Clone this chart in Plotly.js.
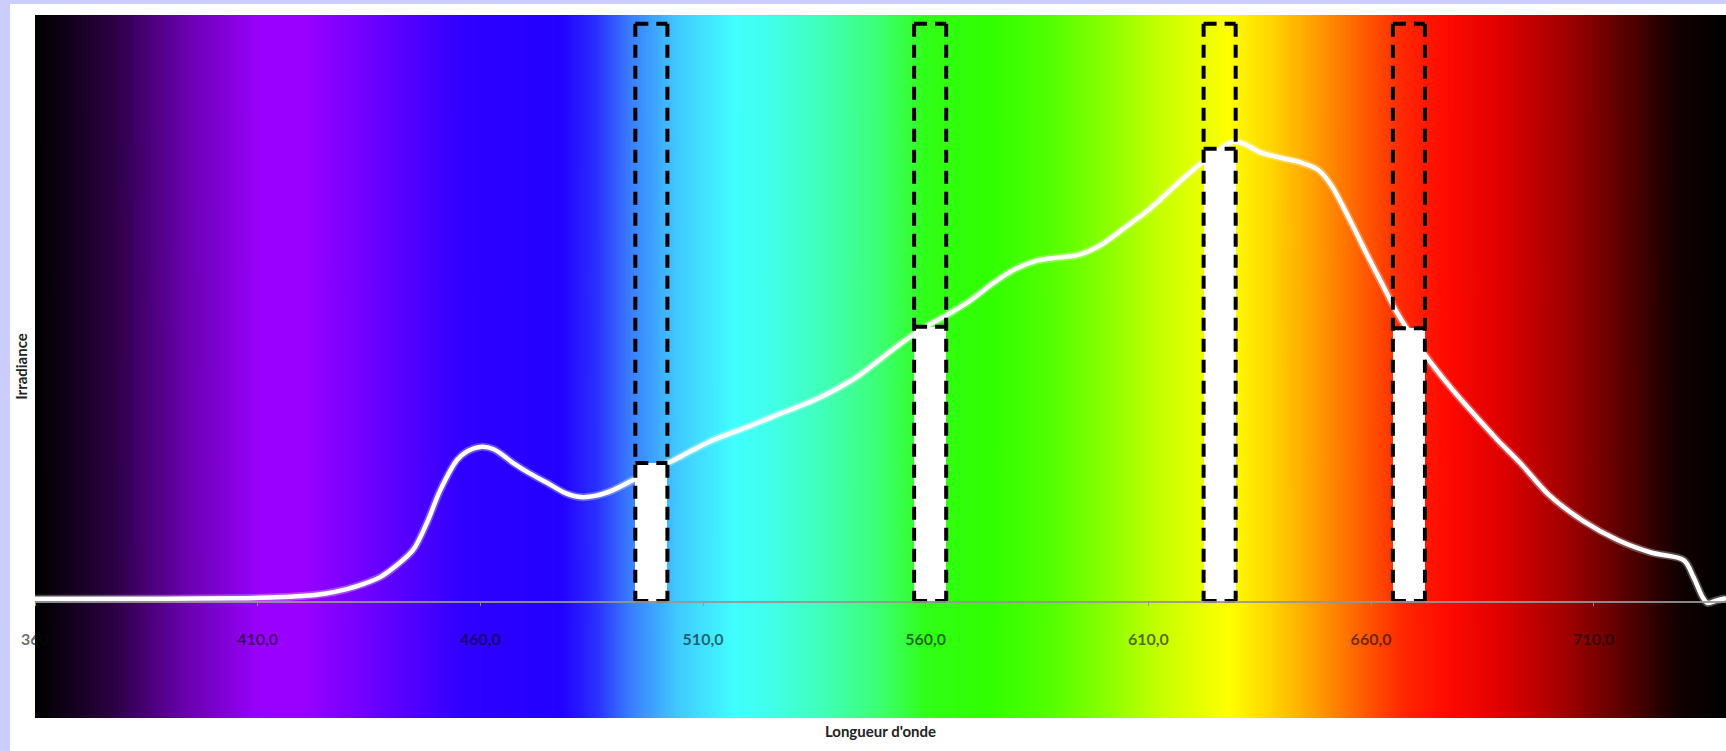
<!DOCTYPE html>
<html>
<head>
<meta charset="utf-8">
<script src="https://cdn.plot.ly/plotly-3.0.1.min.js"></script>
<style>
html,body{margin:0;padding:0;background:#ccccff;width:1726px;height:751px;overflow:hidden}
#chart{position:absolute;left:10px;top:4px;width:1716px;height:747px;background:#ffffff}
</style>
</head>
<body>
<div id="chart"></div>
<script>
// ---- Data ----
const wavelengths = [360, 375, 390, 405, 414, 420, 425, 430, 434, 437.5, 441, 444.9, 448, 451, 454.8, 457, 460, 463, 467.4, 471, 475, 479, 482.4, 486, 489.8, 494.3, 498, 502.6, 507.5, 512.3, 519.9, 526, 534.8, 540, 545, 550, 555, 560, 565, 570, 575, 580, 585, 590, 594.5, 599.5, 604.5, 609.5, 612.8, 618, 622.4, 626, 628.9, 631.5, 635, 640, 644, 648, 651, 655, 659, 662.5, 666, 670, 673.5, 678.5, 683.5, 688.5, 693.5, 700, 707.5, 715.5, 723, 730.2, 732.4, 734.4, 735.5, 737.8, 739.7];
const irradiance  = [0.5, 0.5, 0.5, 0.6, 0.8, 1.1, 1.6, 2.6, 3.8, 5.2, 7.6, 11.1, 17, 24.1, 30.7, 32.5, 33.5, 33, 30, 27.8, 25.7, 23.5, 22.6, 22.9, 24.1, 26.3, 28.2, 30.2, 32.7, 35, 37.8, 40.2, 43.6, 46.1, 49.0, 52.7, 56.4, 59.6, 62.3, 65.3, 69, 72.1, 74, 74.7, 75.3, 77.5, 81, 84.6, 87.4, 92, 95.6, 98.2, 99.8, 99.4, 97.6, 96.3, 95.4, 93.8, 90.5, 83.3, 75.5, 68.9, 62.4, 56.4, 51.7, 45.7, 40.2, 34.9, 30, 23, 17.5, 13.2, 10.5, 8.9, 5.2, 0.9, -0.4, 0.2, 0.6];

const bandCenters = [498.4, 561, 626, 668.5];
const bandValues  = [30, 59.6, 98.3, 59.3];
const bandMax     = [125.5, 125.5, 125.5, 125.5];

const tickValues = [360, 410, 460, 510, 560, 610, 660, 710];
const tickLabels = ['360', '410,0', '460,0', '510,0', '560,0', '610,0', '660,0', '710,0'];

// spectrum background colour stops (wavelength -> colour)
const spectrumWl = [360.5, 377, 394, 411, 420, 434, 456, 478, 486, 494, 504, 517, 526, 538, 550, 560, 574, 588, 601, 614, 628, 637, 647, 657, 667, 677, 690, 704, 717, 729, 739.7];
const spectrumColors = ['#000000', '#2a0040', '#6a00b0', '#9a00ff', '#9a00ff', '#7000ff', '#2f00ff', '#2200ff', '#2a30ff', '#3a80ff', '#40c8ff', '#40ffff', '#40ffe6', '#40ffb4', '#3cff70', '#30ff18', '#30ff00', '#54ff00', '#8cff00', '#ccff00', '#ffff00', '#ffd800', '#ffa000', '#ff6400', '#ff2800', '#ff0a00', '#dc0000', '#a00000', '#580000', '#120000', '#000000'];

const X_MIN = 360, X_MAX = 739.7;
const BAND_WIDTH = 7.2;

// ---- Build spectrum image ----
const cv = document.createElement('canvas');
cv.width = 1600; cv.height = 4;
const ctx = cv.getContext('2d');
const grad = ctx.createLinearGradient(0, 0, cv.width, 0);
spectrumWl.forEach((w, i) => grad.addColorStop(Math.min(1, Math.max(0, (w - X_MIN) / (X_MAX - X_MIN))), spectrumColors[i]));
ctx.fillStyle = grad;
ctx.fillRect(0, 0, cv.width, cv.height);
const spectrumSrc = cv.toDataURL('image/png');

// ---- Dashed band outlines (each edge its own sub-path so dashes start at corners) ----
const outlineX = [], outlineY = [];
bandCenters.forEach((c, i) => {
  const l = c - BAND_WIDTH / 2, r = c + BAND_WIDTH / 2;
  const top = bandMax[i], v = bandValues[i];
  outlineX.push(l, r, null, l, l, null, r, r, null, l, r, null, l, r, null);
  outlineY.push(top, top, null, top, 0, null, top, 0, null, v, v, null, 0, 0, null);
});

const traces = [
  { type: 'scatter', mode: 'lines', x: wavelengths, y: irradiance,
    line: { color: 'rgba(255,255,255,0.28)', width: 8, shape: 'spline', smoothing: 0.9 },
    hoverinfo: 'skip', showlegend: false },
  { type: 'scatter', mode: 'lines', x: wavelengths, y: irradiance, name: 'Irradiance',
    line: { color: '#ffffff', width: 4.5, shape: 'spline', smoothing: 0.9 }, showlegend: false },
  { type: 'bar', x: bandCenters, y: bandValues, width: BAND_WIDTH,
    marker: { color: '#ffffff', line: { width: 0 } }, showlegend: false },
  { type: 'scatter', mode: 'lines', x: outlineX, y: outlineY, connectgaps: false,
    line: { color: '#000000', width: 4, dash: '13px,8px' }, hoverinfo: 'skip', showlegend: false }
];

const fontFam = 'Lato, Carlito, sans-serif';
const layout = {
  width: 1716, height: 747,
  margin: { l: 25, r: 0, t: 11, b: 33, pad: 0 },
  paper_bgcolor: '#ffffff',
  plot_bgcolor: 'rgba(0,0,0,0)',
  showlegend: false,
  bargap: 0,
  xaxis: {
    range: [X_MIN, X_MAX], anchor: 'free', position: 117 / 703,
    showgrid: false, zeroline: false,
    showline: true, linecolor: 'rgba(150,150,150,0.9)', linewidth: 1.5,
    ticks: 'outside', ticklen: 3, tickcolor: 'rgba(150,150,150,0.9)',
    tickvals: tickValues, ticktext: tickLabels,
    tickfont: { family: fontFam, size: 16, color: 'rgba(10,10,10,0.62)', weight: 'bold' },
    ticklabelstandoff: 20,
    automargin: false,
    title: { text: "Longueur d'onde", standoff: 80,
      font: { family: fontFam, size: 15, color: '#222222', weight: 'bold' } }
  },
  yaxis: {
    range: [-25.43, 127.39],
    showgrid: false, zeroline: false, showline: false, ticks: '', showticklabels: false,
    automargin: false,
    title: { text: 'Irradiance', standoff: 2,
      font: { family: fontFam, size: 15, color: '#222222', weight: 'bold' } }
  },
  images: [{
    source: spectrumSrc, xref: 'x', yref: 'paper',
    x: X_MIN, y: 1, sizex: X_MAX - X_MIN, sizey: 1,
    xanchor: 'left', yanchor: 'top', sizing: 'stretch', layer: 'below'
  }]
};

Plotly.newPlot('chart', traces, layout, { displayModeBar: false, staticPlot: true });
</script>
</body>
</html>
